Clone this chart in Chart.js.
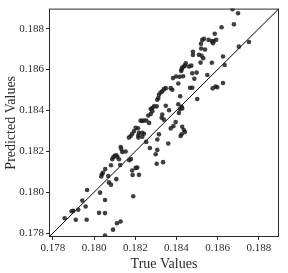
<!DOCTYPE html>
<html>
<head>
<meta charset="utf-8">
<script src="https://cdn.jsdelivr.net/npm/chart.js@4.4.1/dist/chart.umd.min.js"></script>
<style>
  html, body { margin: 0; padding: 0; background: #fff; }
  canvas { display: block; }
</style>
</head>
<body>
<canvas id="chart" width="288" height="273"></canvas>
<script>
// true vs predicted
const trueValues = [
    0.17857, 0.17891, 0.17899, 0.17911, 0.17923, 0.17943, 0.17959, 0.17964, 0.17966, 0.18024,
    0.18029, 0.18053, 0.18053, 0.18053, 0.18035, 0.18038, 0.18043, 0.18054, 0.18069, 0.18072,
    0.18082, 0.18082, 0.18088, 0.18093, 0.18100, 0.18108, 0.18113, 0.18121, 0.18127, 0.18108,
    0.18092, 0.18111, 0.18129, 0.18171, 0.18179, 0.18185, 0.18190, 0.18129, 0.18132, 0.18137,
    0.18153, 0.18187, 0.18202, 0.18210, 0.18218, 0.18169, 0.18178, 0.18185, 0.18194, 0.18202,
    0.18218, 0.18215, 0.18215, 0.18234, 0.18213, 0.18234, 0.18242, 0.18226, 0.18234, 0.18242,
    0.18253, 0.18267, 0.18263, 0.18275, 0.18283, 0.18275, 0.18283, 0.18291, 0.18304, 0.18253,
    0.18271, 0.18307, 0.18315, 0.18307, 0.18299, 0.18304, 0.18335, 0.18360, 0.18372, 0.18385,
    0.18396, 0.18428, 0.18436, 0.18425, 0.18420, 0.18441, 0.18331, 0.18328, 0.18339, 0.18348,
    0.18364, 0.18409, 0.18417, 0.18425, 0.18428, 0.18412, 0.18307, 0.18312, 0.18315, 0.18323,
    0.18331, 0.18339, 0.18348, 0.18372, 0.18380, 0.18383, 0.18398, 0.18415, 0.18432, 0.18409,
    0.18418, 0.18466, 0.18477, 0.18501, 0.18477, 0.18498, 0.18487, 0.18550, 0.18576, 0.18590,
    0.18598, 0.18626, 0.18634, 0.18626, 0.18703, 0.18752, 0.18572, 0.18517, 0.18445, 0.18441,
    0.18436, 0.18428, 0.18425, 0.18423, 0.18461, 0.18472, 0.18480, 0.18480, 0.18509, 0.18522,
    0.18530, 0.18539, 0.18519, 0.18520, 0.18525, 0.18534, 0.18556, 0.18572, 0.18577, 0.18582,
    0.18593, 0.18586, 0.18619, 0.18679, 0.18672, 0.18699
];
const predictedValues = [
    0.17873, 0.17907, 0.17909, 0.17865, 0.17914, 0.17959, 0.17930, 0.17865, 0.18011, 0.17899,
    0.17998, 0.17962, 0.17898, 0.17788, 0.18077, 0.18088, 0.18095, 0.18113, 0.18079, 0.18048,
    0.18037, 0.18132, 0.18161, 0.18171, 0.18178, 0.18181, 0.18173, 0.18161, 0.18133, 0.18064,
    0.17817, 0.17848, 0.17857, 0.18156, 0.18162, 0.18106, 0.17980, 0.18221, 0.18211, 0.18197,
    0.18199, 0.18084, 0.18119, 0.18121, 0.18085, 0.18267, 0.18275, 0.18286, 0.18299, 0.18315,
    0.18291, 0.18278, 0.18267, 0.18271, 0.18313, 0.18291, 0.18286, 0.18350, 0.18348, 0.18351,
    0.18351, 0.18339, 0.18375, 0.18383, 0.18396, 0.18407, 0.18412, 0.18420, 0.18420, 0.18246,
    0.18216, 0.18258, 0.18283, 0.18207, 0.18186, 0.18139, 0.18147, 0.18238, 0.18312, 0.18323,
    0.18343, 0.18320, 0.18304, 0.18283, 0.18275, 0.18294, 0.18380, 0.18364, 0.18355, 0.18423,
    0.18401, 0.18430, 0.18407, 0.18418, 0.18410, 0.18388, 0.18452, 0.18461, 0.18477, 0.18488,
    0.18493, 0.18504, 0.18509, 0.18509, 0.18501, 0.18558, 0.18566, 0.18565, 0.18567, 0.18532,
    0.18469, 0.18511, 0.18511, 0.18456, 0.18582, 0.18585, 0.18555, 0.18573, 0.18508, 0.18517,
    0.18513, 0.18534, 0.18622, 0.18664, 0.18712, 0.18735, 0.18633, 0.18634, 0.18631, 0.18619,
    0.18615, 0.18610, 0.18601, 0.18593, 0.18615, 0.18619, 0.18687, 0.18671, 0.18672, 0.18667,
    0.18655, 0.18698, 0.18726, 0.18703, 0.18745, 0.18750, 0.18745, 0.18739, 0.18729, 0.18739,
    0.18746, 0.18775, 0.18807, 0.18821, 0.18895, 0.18875
];
const tickValues = [0.178, 0.180, 0.182, 0.184, 0.186, 0.188];
const axisMin = 0.17781;
const axisMax = 0.18898;

const FONT = "'Liberation Serif', 'DejaVu Serif', serif";
const INK = "#2b2b2b";

const points = trueValues.map((t, i) => ({ x: t, y: predictedValues[i] }));

// box around the plot area
const frame = {
    id: "frame",
    afterDatasetsDraw(chart) {
        const a = chart.chartArea;
        const ctx = chart.ctx;
        ctx.save();
        ctx.strokeStyle = INK;
        ctx.lineWidth = 1;
        ctx.strokeRect(a.left + 0.5, a.top + 0.5, a.right - a.left - 1, a.bottom - a.top - 1);
        ctx.restore();
    }
};

function axis(title, isX) {
    return {
        type: "linear",
        min: axisMin,
        max: axisMax,
        afterBuildTicks: (s) => { s.ticks = tickValues.map(v => ({ value: v })); },
        afterFit: (s) => {
            if (isX) s.height = 36;
            else s.width = 49;
        },
        border: { display: false },
        grid: {
            drawOnChartArea: false,
            drawTicks: true,
            tickLength: 3,
            color: INK
        },
        ticks: {
            color: INK,
            font: { family: FONT, size: 11 },
            padding: 2,
            maxRotation: 0,
            callback: (v) => v.toFixed(3)
        },
        title: {
            display: true,
            text: title,
            color: INK,
            font: { family: FONT, size: 14 },
            padding: isX ? { top: 0, bottom: 0 } : { top: 3, bottom: 0 }
        }
    };
}

new Chart(document.getElementById("chart"), {
    type: "scatter",
    data: {
        datasets: [{
            data: points,
            pointRadius: 2.3,
            pointHoverRadius: 2.3,
            pointBorderWidth: 0,
            backgroundColor: "rgba(30,30,30,0.85)",
            borderColor: "rgba(0,0,0,0)"
        }, {
            type: "line",
            data: [{ x: axisMin, y: axisMin }, { x: axisMax, y: axisMax }],
            borderColor: "#000",
            borderWidth: 1,
            pointRadius: 0,
            fill: false
        }]
    },
    options: {
        responsive: false,
        animation: false,
        layout: { padding: { top: 7, right: 9, left: 0, bottom: 0 } },
        plugins: {
            legend: { display: false },
            tooltip: { enabled: false }
        },
        scales: {
            x: axis("True Values", true),
            y: axis("Predicted Values", false)
        }
    },
    plugins: [frame]
});
</script>
</body>
</html>
